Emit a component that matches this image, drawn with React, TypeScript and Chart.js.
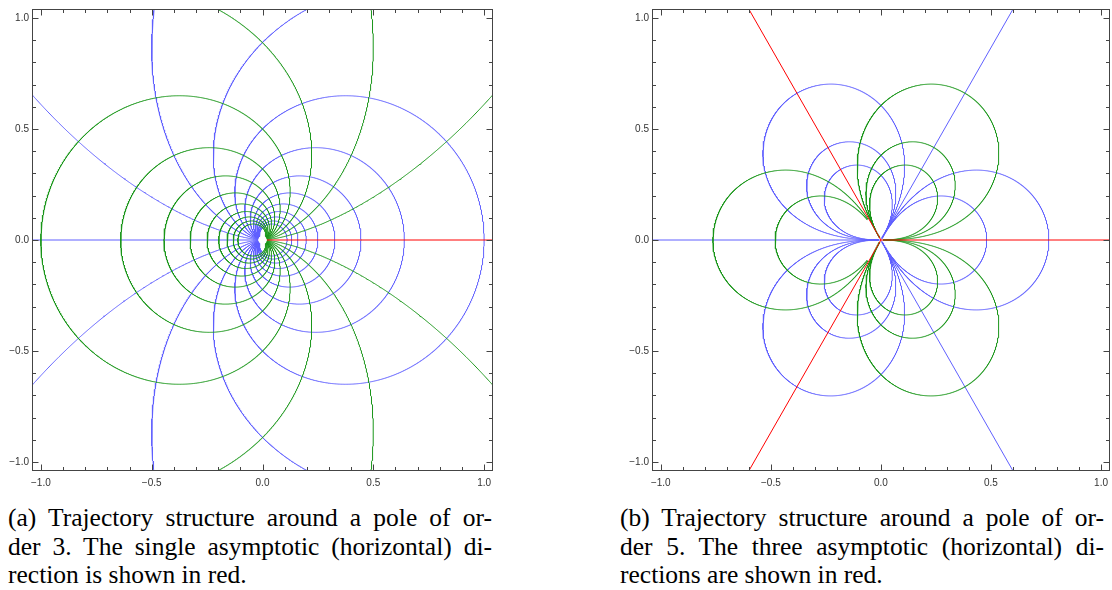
import React, { useEffect, useRef } from "react";
import { Chart, registerables } from "chart.js";
Chart.register(...registerables);

// ---------- data ----------
// Panel (a): pole of order 3, level values c of Re / Im of z^(-1/2)
const levelsA = [0.25, 0.5, 0.75, 1, 1.25, 1.5, 1.75, 2, 2.25, 2.5, 2.75, 3];
const blueRaysA = [180];
const redRaysA = [0];
const cuspMinRA = 0.02;

// Panel (b): pole of order 5, lobes of Re / Im of z^(-3/2)
const blueLobeAnglesB = [0, 120, 240];
const blueLobeLevelsB = [[1.5, 3], [1.5, 3, 4.5], [1.5, 3, 4.5]];
const blueLobeMinRB = [0.01, 0.01, 0.01];
const greenLobeAnglesB = [60, 180, 300];
const greenLobeLevelsB = [[1.5, 3, 4.5], [1.5, 3], [1.5, 3, 4.5]];
const greenLobeMinRB = [0.01, 0.11, 0.01];
const blueRaysB = [60, 180, 300];
const redRaysB = [0, 120, 240];

// axes
const axisMin = -1.04;
const axisMax = 1.04;
const majorTicks = [-1, -0.5, 0, 0.5, 1];
const majorLabels = ["\u22121.0", "\u22120.5", "0.0", "0.5", "1.0"];
const minorTicks = [-0.9, -0.8, -0.7, -0.6, -0.4, -0.3, -0.2, -0.1, 0.1, 0.2, 0.3, 0.4, 0.6, 0.7, 0.8, 0.9];

const captionA = [
  "(a) Trajectory structure around a pole of or-",
  "der 3.  The single asymptotic (horizontal) di-",
  "rection is shown in red.",
];
const captionB = [
  "(b) Trajectory structure around a pole of or-",
  "der 5.  The three asymptotic (horizontal) di-",
  "rections are shown in red.",
];

const BLUE = "rgb(96,96,255)";
const GREEN = "rgb(26,150,26)";
const RED = "rgb(255,0,0)";
const FRAME = "#444";

type P = { x: number; y: number };

// sample a polar curve r(t) at angle rot + t, split into in-box segments
function polarSegments(rFn: (t: number) => number, t0: number, t1: number, rmin: number, rot: number, n = 4000): P[][] {
  const segs: P[][] = [];
  let cur: P[] = [];
  const lim = 1.12;
  for (let i = 1; i < n; i++) {
    const t = t0 + ((t1 - t0) * i) / n;
    const r = rFn(t);
    const th = rot + t;
    const x = r * Math.cos(th);
    const y = r * Math.sin(th);
    const ok = isFinite(r) && r >= rmin && Math.abs(x) <= lim && Math.abs(y) <= lim;
    if (ok) cur.push({ x, y });
    else if (cur.length) {
      if (cur.length > 1) segs.push(cur);
      cur = [];
    }
  }
  if (cur.length > 1) segs.push(cur);
  return segs;
}

// straight ray from r0 out to beyond the frame
function ray(deg: number, r0: number): P[] {
  const a = (deg * Math.PI) / 180;
  const c = Math.round(Math.cos(a) * 1e9) / 1e9;
  const s = Math.round(Math.sin(a) * 1e9) / 1e9;
  return [
    { x: r0 * c, y: r0 * s },
    { x: 1.3 * c, y: 1.3 * s },
  ];
}

function ds(pts: P[], color: string) {
  return {
    data: pts,
    borderColor: color,
    backgroundColor: color,
    borderWidth: 1,
    pointRadius: 0,
    pointHoverRadius: 0,
    showLine: true,
    fill: false,
    tension: 0,
  };
}

function buildA() {
  const out: any[] = [];
  redRaysA.forEach((d) => out.push(ds(ray(d, cuspMinRA), RED)));
  // green: Im(z^-1/2) = ±c  -> r = sin^2(t/2)/c^2
  levelsA.forEach((c) => {
    polarSegments((t) => Math.pow(Math.sin(t / 2), 2) / (c * c), 0, 2 * Math.PI, cuspMinRA, 0).forEach((s) =>
      out.push(ds(s, GREEN))
    );
  });
  // blue: Re(z^-1/2) = c -> r = cos^2(t/2)/c^2
  levelsA.forEach((c) => {
    polarSegments((t) => Math.pow(Math.cos(t / 2), 2) / (c * c), -Math.PI, Math.PI, cuspMinRA, 0).forEach((s) =>
      out.push(ds(s, BLUE))
    );
  });
  blueRaysA.forEach((d) => out.push(ds(ray(d, cuspMinRA), BLUE)));
  return out;
}

function lobe(c: number) {
  return (d: number) => Math.pow(Math.max(Math.cos(1.5 * d), 0) / c, 2 / 3);
}

function buildB() {
  const out: any[] = [];
  redRaysB.forEach((d) => out.push(ds(ray(d, 0), RED)));
  greenLobeAnglesB.forEach((ang, i) => {
    greenLobeLevelsB[i].forEach((c) => {
      polarSegments(lobe(c), -Math.PI / 3, Math.PI / 3, greenLobeMinRB[i], (ang * Math.PI) / 180).forEach((s) =>
        out.push(ds(s, GREEN))
      );
    });
  });
  blueLobeAnglesB.forEach((ang, i) => {
    blueLobeLevelsB[i].forEach((c) => {
      polarSegments(lobe(c), -Math.PI / 3, Math.PI / 3, blueLobeMinRB[i], (ang * Math.PI) / 180).forEach((s) =>
        out.push(ds(s, BLUE))
      );
    });
  });
  blueRaysB.forEach((d) => out.push(ds(ray(d, 0.004), BLUE)));
  return out;
}

const framePlugin = {
  id: "frameTicks",
  afterDraw(chart: any) {
    const { ctx, chartArea: a, scales } = chart;
    const xs = scales.x;
    const ys = scales.y;
    ctx.save();
    ctx.strokeStyle = FRAME;
    ctx.lineWidth = 1;
    const L = Math.round(a.left) + 0.5;
    const R = Math.round(a.right) - 0.5;
    const T = Math.round(a.top) + 0.5;
    const B = Math.round(a.bottom) - 0.5;
    ctx.strokeRect(L, T, R - L, B - T);
    const tick = (v: number, len: number) => {
      const px = Math.round(xs.getPixelForValue(v)) + 0.5;
      const py = Math.round(ys.getPixelForValue(v)) + 0.5;
      ctx.beginPath();
      ctx.moveTo(px, B);
      ctx.lineTo(px, B - len);
      ctx.moveTo(px, T);
      ctx.lineTo(px, T + len);
      ctx.moveTo(L, py);
      ctx.lineTo(L + len, py);
      ctx.moveTo(R, py);
      ctx.lineTo(R - len, py);
      ctx.stroke();
    };
    majorTicks.forEach((v) => tick(v, 6));
    minorTicks.forEach((v) => tick(v, 3.5));
    ctx.restore();
  },
};

function makeOptions(padRight: number) {
  const tickFont = { family: "'Liberation Sans', Arial, sans-serif", size: 10 };
  const mkScale = () => ({
    type: "linear",
    min: axisMin,
    max: axisMax,
    grid: { display: false, drawTicks: false, drawOnChartArea: false },
    border: { display: false },
    afterBuildTicks: (axis: any) => {
      axis.ticks = majorTicks.map((value) => ({ value }));
    },
  });
  return {
    responsive: false,
    animation: false,
    events: [],
    devicePixelRatio: 1,
    layout: { padding: { top: 8, right: padRight, left: 0, bottom: 0 } },
    plugins: { legend: { display: false }, tooltip: { enabled: false } },
    scales: {
      x: {
        ...mkScale(),
        position: "bottom",
        ticks: {
          autoSkip: false,
          maxRotation: 0,
          padding: 6,
          color: "#333",
          font: tickFont,
          callback: (_v: any, i: number) => majorLabels[i],
        },
        afterFit: (s: any) => {
          s.height = 29;
        },
      },
      y: {
        ...mkScale(),
        position: "left",
        ticks: {
          autoSkip: false,
          padding: 3,
          color: "#333",
          font: tickFont,
          callback: (_v: any, i: number) => majorLabels[i],
        },
        afterFit: (s: any) => {
          s.width = 32;
        },
      },
    },
  };
}

function Panel({ build, left, width, padRight }: { build: () => any[]; left: number; width: number; padRight: number }) {
  const ref = useRef<HTMLCanvasElement>(null);
  useEffect(() => {
    if (!ref.current) return;
    const chart = new Chart(ref.current, {
      type: "scatter",
      data: { datasets: build() },
      options: makeOptions(padRight) as any,
      plugins: [framePlugin],
    });
    return () => chart.destroy();
  }, []);
  return (
    <canvas
      ref={ref}
      width={width}
      height={500}
      style={{ position: "absolute", left, top: 0, width, height: 500 }}
    />
  );
}

function Caption({ lines, left }: { lines: string[]; left: number }) {
  return (
    <div
      style={{
        position: "absolute",
        left,
        top: 504,
        width: 484,
        fontFamily: "'Liberation Serif', 'DejaVu Serif', serif",
        fontSize: 25.5,
        lineHeight: "28.5px",
        color: "#000",
      }}
    >
      {lines.map((l, i) => (
        <div
          key={i}
          style={{
            textAlign: i < lines.length - 1 ? "justify" : "left",
            textAlignLast: i < lines.length - 1 ? "justify" : "left",
            whiteSpace: "nowrap",
          }}
        >
          {l}
        </div>
      ))}
    </div>
  );
}

export default function App() {
  return (
    <div
      style={{
        position: "fixed",
        left: 0,
        top: 0,
        width: 1112,
        height: 590,
        overflow: "hidden",
        background: "#fff",
      }}
    >
      <Panel build={buildA} left={0} width={500} padRight={7} />
      <Panel build={buildB} left={620} width={494} padRight={1} />
      <Caption lines={captionA} left={8} />
      <Caption lines={captionB} left={620} />
    </div>
  );
}
